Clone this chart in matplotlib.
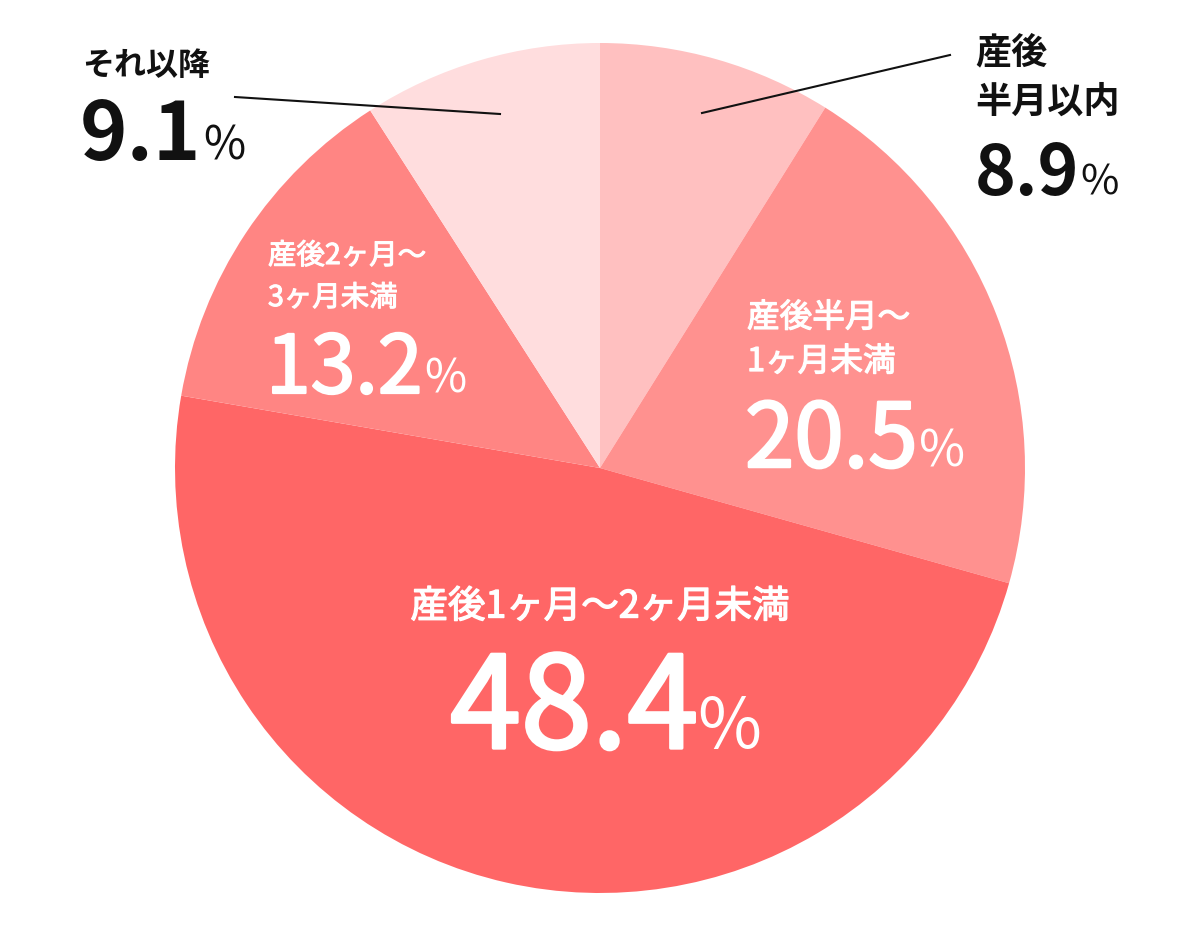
import matplotlib.pyplot as plt
import matplotlib.patheffects as pe

plt.rcParams['font.family'] = ['Noto Sans CJK JP', 'DejaVu Sans']

# data
labels = ['産後\n半月以内', '産後半月～\n1ヶ月未満', '産後1ヶ月～2ヶ月未満', '産後2ヶ月～\n3ヶ月未満', 'それ以降']
values = [8.9, 20.5, 48.4, 13.2, 9.1]
colors = ['#FFC0C0', '#FF918F', '#FF6666', '#FF8583', '#FFDDDE']

W, H = 1200, 939
CX, CY, R = 600, 468, 425


def px(x, y):
    # pixel position -> data coords (pie radius = 1)
    return (x - CX) / R, (CY - y) / R


fig = plt.figure(figsize=(W / 100, H / 100), dpi=100)
ax = fig.add_axes([0, 0, 1, 1])
ax.pie(values, colors=colors, startangle=90, counterclock=False, radius=1,
       wedgeprops=dict(linewidth=0))
ax.set_xlim(-CX / R, (W - CX) / R)
ax.set_ylim((CY - H) / R, CY / R)
ax.set_aspect('equal')
ax.axis('off')

black = '#111111'
white = '#FFFFFF'


def thick(color, lw):
    # fake a medium weight for the white text
    if lw > 0:
        return [pe.withStroke(linewidth=lw, foreground=color)]
    return []


def number(x, y, val, size, color, weight, pct_size, gap=1, stroke=0):
    t = ax.text(*px(x, y), f'{val}', fontsize=size, color=color,
                fontweight=weight, ha='left', va='baseline',
                path_effects=thick(color, stroke))
    ax.annotate('%', xy=(1, px(x, y)[1]), xycoords=(t, 'data'),
                xytext=(gap, 0), textcoords='offset points',
                fontsize=pct_size, color=color, fontweight='normal',
                ha='left', va='baseline')
    return t


def label(x, y, text, size, color, weight, spacing, ha='left', stroke=0):
    for i, line in enumerate(text.split('\n')):
        ax.text(*px(x, y + i * spacing), line, fontsize=size, color=color,
                fontweight=weight, ha=ha, va='center',
                path_effects=thick(color, stroke))


# 産後半月以内
label(975, 53, labels[0], 26, black, 'bold', 49)
number(975, 195, values[0], 50, black, 'bold', 30)
ax.plot(*zip(px(950, 55), px(702, 113)), color=black, lw=1.5)

# 産後半月～1ヶ月未満
label(747, 318, labels[1], 23.5, white, 'normal', 44, stroke=0.9)
number(745, 467, values[1], 64, white, 'normal', 36, stroke=1.8)

# 産後1ヶ月～2ヶ月未満
label(600, 607, labels[2], 27, white, 'normal', 0, ha='center', stroke=1.0)
number(450, 748, values[2], 92, white, 'normal', 50, gap=-1, stroke=2.4)

# 産後2ヶ月～3ヶ月未満
label(268, 256, labels[3], 20.5, white, 'normal', 42, stroke=0.8)
number(266, 393, values[3], 58, white, 'normal', 33, stroke=1.6)

# それ以降
label(82, 66, labels[4], 23, black, 'bold', 0)
number(80, 160, values[4], 58, black, 'bold', 33)
ax.plot(*zip(px(235, 97), px(500, 114)), color=black, lw=1.5)

fig.savefig('out.png', dpi=100)
